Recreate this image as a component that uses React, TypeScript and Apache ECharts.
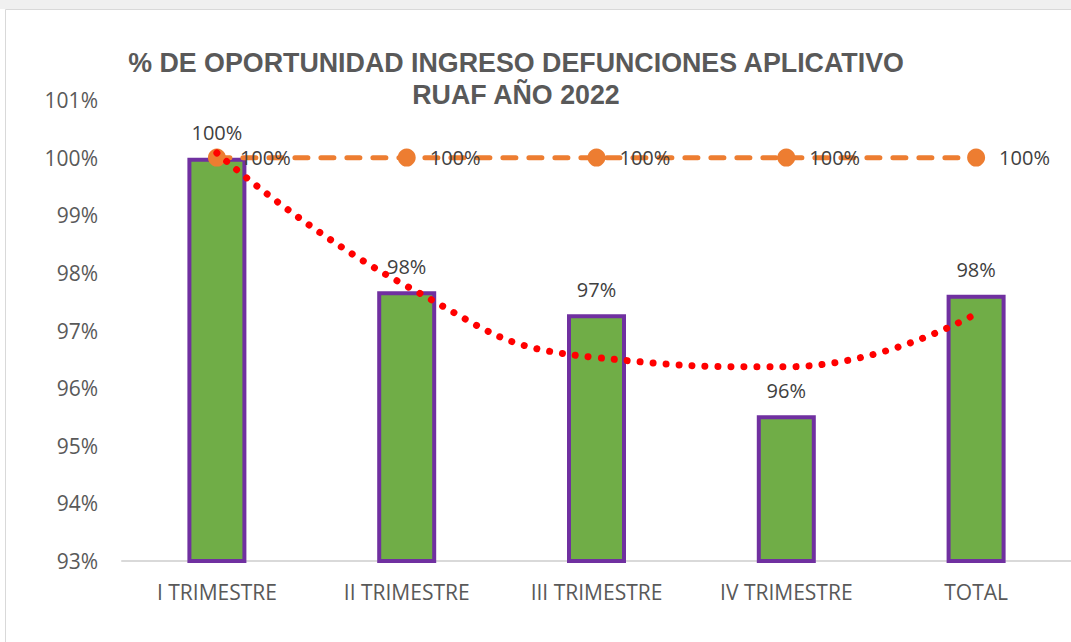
import React, { useEffect, useRef } from "react";
import * as echarts from "echarts";

const categories = ["I TRIMESTRE", "II TRIMESTRE", "III TRIMESTRE", "IV TRIMESTRE", "TOTAL"];
const oportunidad = [100, 97.68, 97.28, 95.53, 97.62];
const meta = [100, 100, 100, 100, 100];
// polynomial trend line
const tendencia = [100.08, 97.77, 96.53, 96.37, 97.29];
const titleLines = ["% DE OPORTUNIDAD INGRESO DEFUNCIONES APLICATIVO", "RUAF AÑO 2022"];

const FONT = "'Open Sans', 'Noto Sans', sans-serif";

export default function App() {
  const ref = useRef<HTMLDivElement>(null);
  useEffect(() => {
    if (!ref.current) return;
    const chart = echarts.init(ref.current, null, { renderer: "svg" });
    chart.setOption({
      animation: false,
      backgroundColor: "#ffffff",
      graphic: [
        { type: "rect", shape: { x: 0, y: 0, width: 1071, height: 9 }, style: { fill: "#f0f0f0" }, z: 0 },
        { type: "rect", shape: { x: 5.5, y: 9.5, width: 1200, height: 800 }, style: { fill: "none", stroke: "#d9d9d9", lineWidth: 1 }, z: 0 },
        {
          type: "text",
          x: 516,
          y: 47,
          style: {
            text: titleLines.join("\n"),
            font: "bold 26.8px 'Liberation Sans', Arial, sans-serif",
            fill: "#595959",
            align: "center",
            lineHeight: 32,
          },
          z: 10,
        },
      ],
      grid: { left: 122, width: 951, top: 100, height: 461 },
      xAxis: {
        type: "category",
        data: categories,
        axisLine: { show: true, lineStyle: { color: "#d9d9d9", width: 2 } },
        axisTick: { show: false },
        axisLabel: { color: "#595959", fontSize: 21, fontFamily: FONT, margin: 20 },
        z: 1,
      },
      yAxis: {
        type: "value",
        min: 93,
        max: 101,
        interval: 1,
        axisLine: { show: false },
        axisTick: { show: false },
        splitLine: { show: false },
        axisLabel: { color: "#595959", fontSize: 21, fontFamily: FONT, margin: 24, formatter: "{value}%" },
      },
      series: [
        {
          type: "bar",
          data: oportunidad,
          barWidth: 59,
          itemStyle: { color: "#70AD47", borderColor: "#7030A0", borderWidth: 4 },
          label: {
            show: true,
            position: "top",
            distance: 15,
            color: "#404040",
            fontSize: 20,
            fontFamily: FONT,
            formatter: (p: any) => Math.round(p.value) + "%",
          },
          z: 2,
        },
        {
          type: "line",
          data: meta,
          symbol: "circle",
          symbolSize: 18,
          itemStyle: { color: "#ED7D31" },
          lineStyle: { color: "#ED7D31", width: 5, type: [13, 13], cap: "round" },
          label: {
            show: true,
            position: "right",
            distance: 14,
            color: "#404040",
            fontSize: 20,
            fontFamily: FONT,
            formatter: (p: any) => Math.round(p.value) + "%",
          },
          z: 3,
        },
        {
          type: "line",
          data: tendencia,
          symbol: "none",
          smooth: 0.5,
          lineStyle: { color: "#FF0000", width: 7, type: [0.01, 13], cap: "round" },
          z: 4,
          silent: true,
        },
      ],
    });
    return () => chart.dispose();
  }, []);
  return <div ref={ref} style={{ position: "fixed", left: 0, top: 0, width: 1071, height: 642 }} />;
}
